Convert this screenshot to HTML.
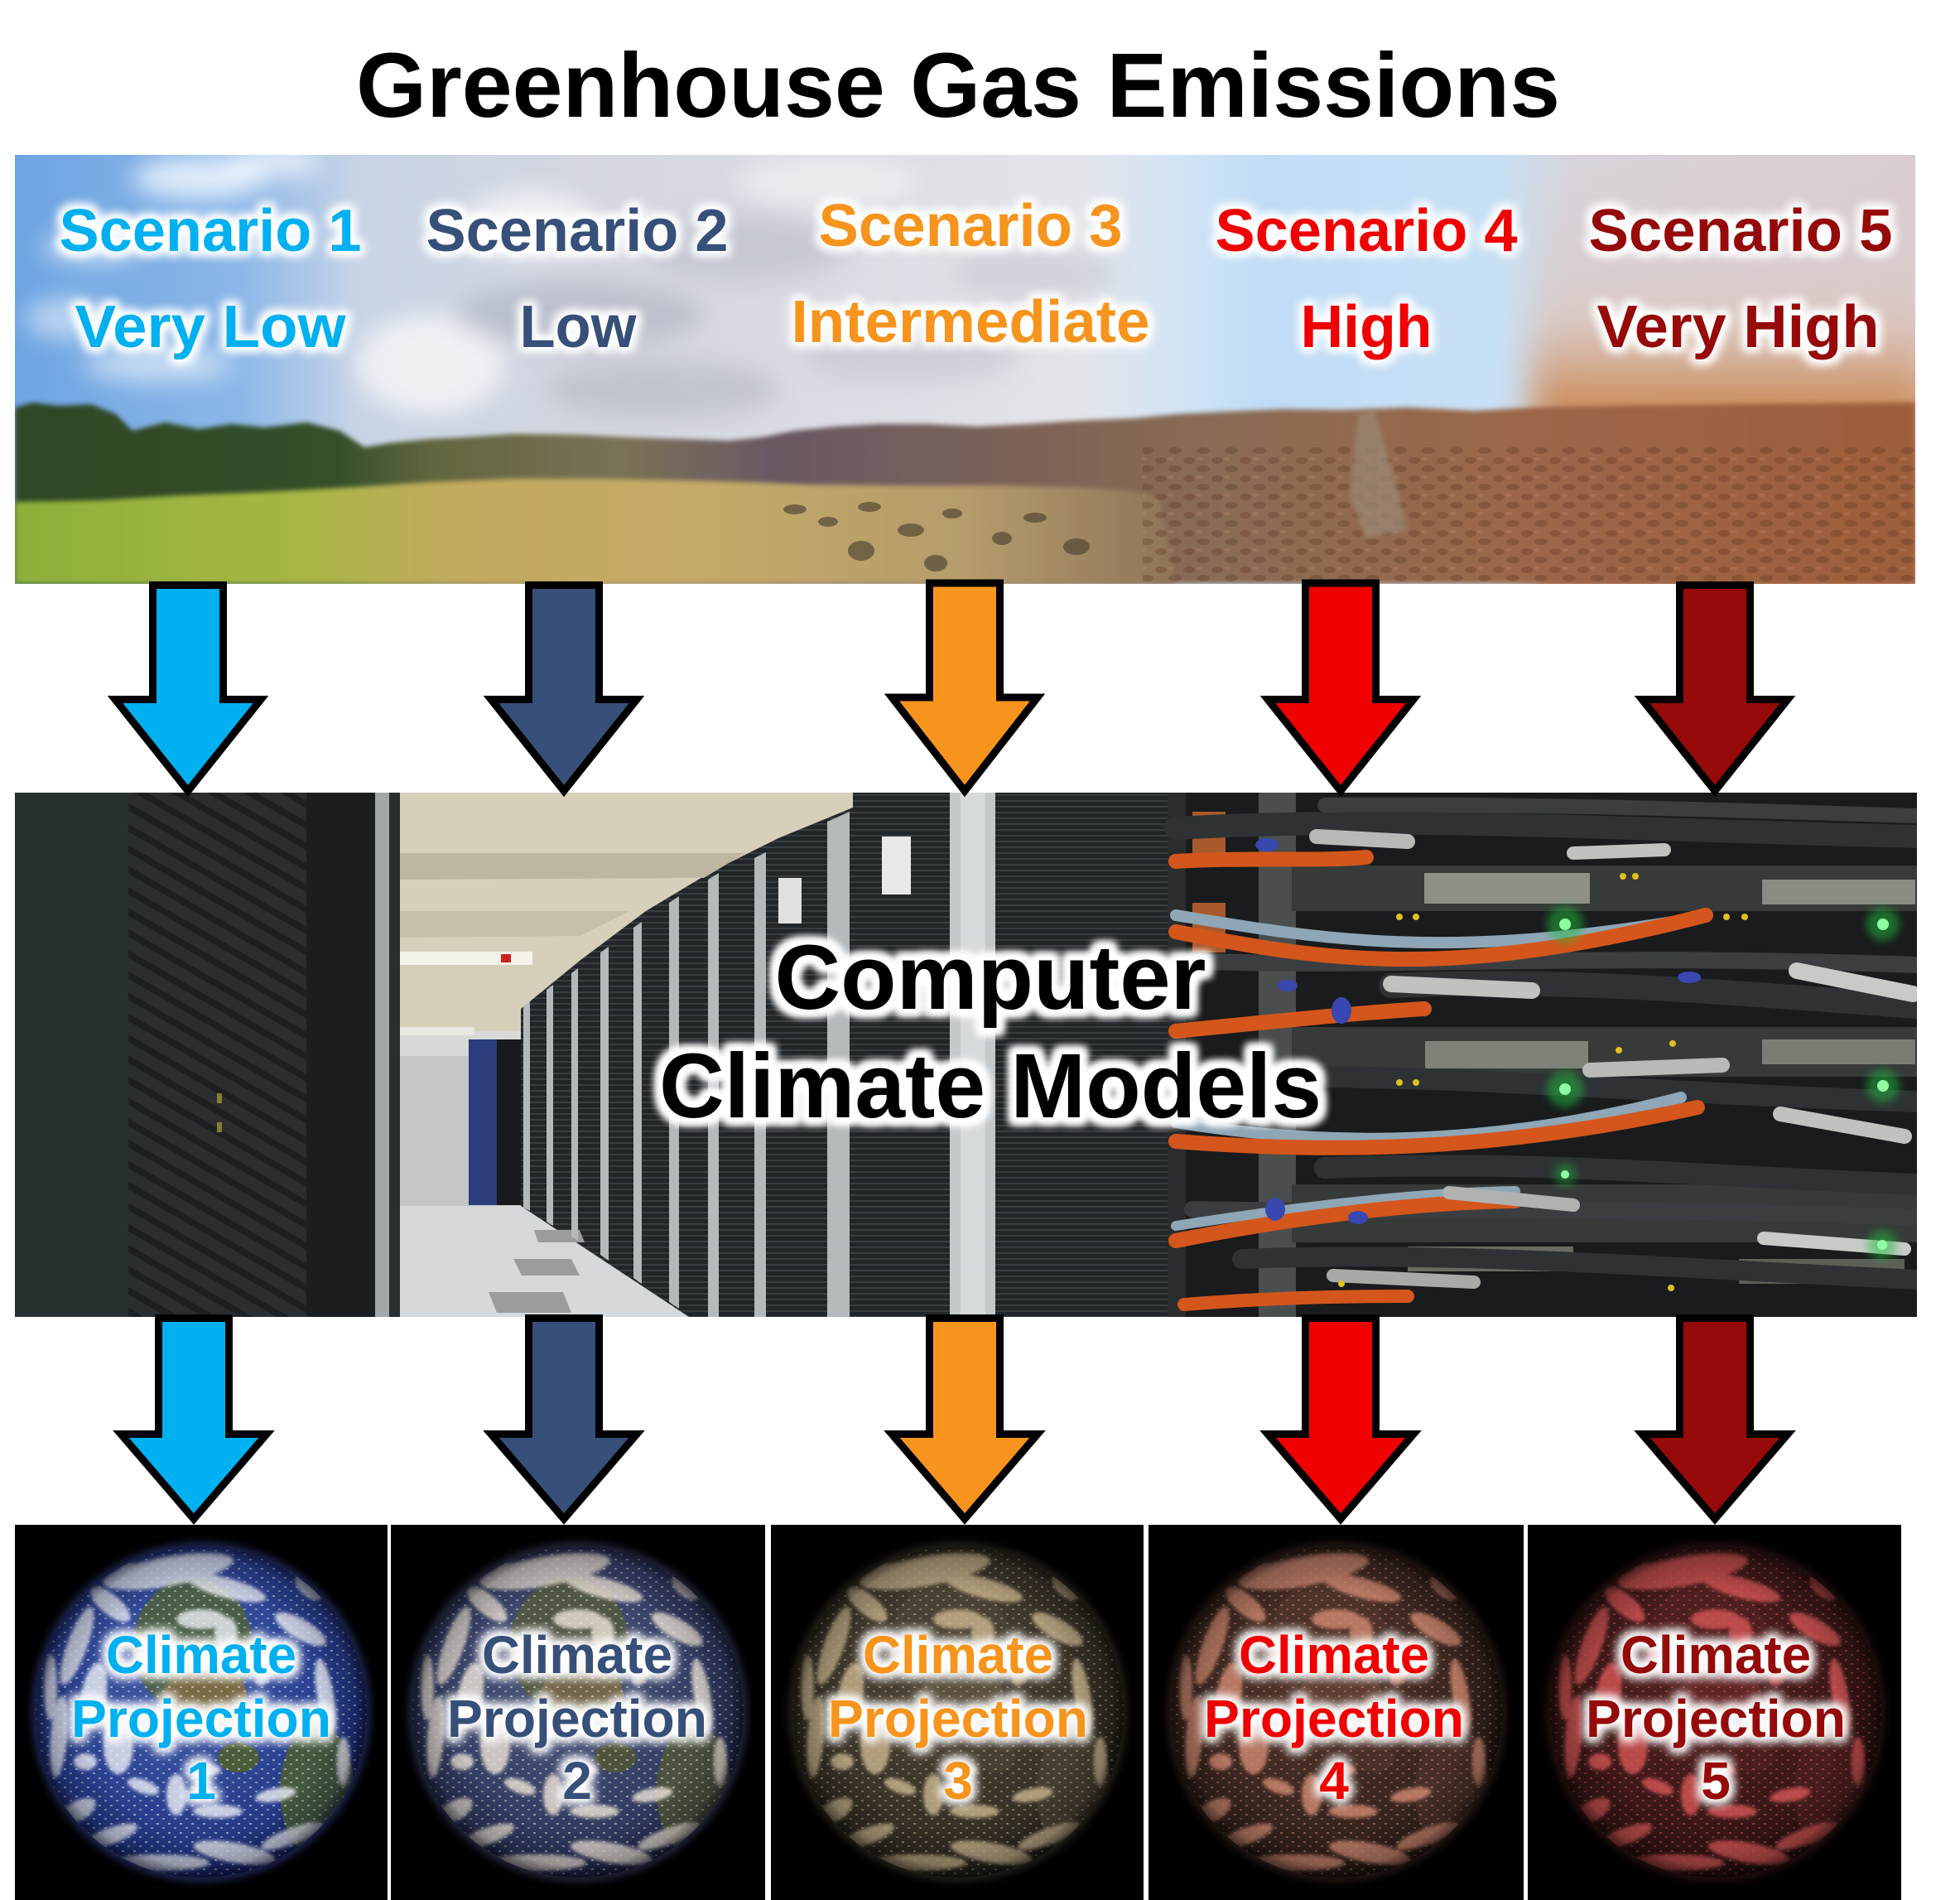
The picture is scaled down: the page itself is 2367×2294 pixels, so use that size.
<!DOCTYPE html>
<html><head><meta charset="utf-8"><title>Greenhouse Gas Emissions</title>
<style>
html,body{margin:0;padding:0;background:#fff;}
body{width:2367px;height:2294px;overflow:hidden;}
svg{display:block;}
text{font-family:"Liberation Sans",Arial,sans-serif;font-weight:bold;}
</style></head><body>
<svg xmlns="http://www.w3.org/2000/svg" xmlns:xlink="http://www.w3.org/1999/xlink" width="2367" height="2294" viewBox="0 0 2367 2294">
<defs>
  <filter id="glow" x="-20%" y="-70%" width="140%" height="240%" color-interpolation-filters="sRGB">
    <feMorphology in="SourceAlpha" operator="dilate" radius="4" result="d"/>
    <feGaussianBlur in="d" stdDeviation="6" result="b"/>
    <feFlood flood-color="#ffffff" result="f"/>
    <feComposite in="f" in2="b" operator="in" result="w"/>
    <feMerge><feMergeNode in="w"/><feMergeNode in="w"/><feMergeNode in="SourceGraphic"/></feMerge>
  </filter>
  <filter id="glowBig" x="-20%" y="-70%" width="140%" height="240%" color-interpolation-filters="sRGB">
    <feMorphology in="SourceAlpha" operator="dilate" radius="7" result="d"/>
    <feGaussianBlur in="d" stdDeviation="5" result="b"/>
    <feFlood flood-color="#ffffff" result="f"/>
    <feComposite in="f" in2="b" operator="in" result="w"/>
    <feMerge><feMergeNode in="w"/><feMergeNode in="w"/><feMergeNode in="w"/><feMergeNode in="SourceGraphic"/></feMerge>
  </filter>
  <filter id="bl2" x="-20%" y="-20%" width="140%" height="140%"><feGaussianBlur stdDeviation="2"/></filter>
  <filter id="bl3" x="-5%" y="-20%" width="110%" height="140%"><feGaussianBlur stdDeviation="3"/></filter>
  <filter id="bl5" x="-20%" y="-20%" width="140%" height="140%"><feGaussianBlur stdDeviation="5"/></filter>
  <filter id="bl14" x="-30%" y="-30%" width="160%" height="160%"><feGaussianBlur stdDeviation="14"/></filter>
  <filter id="bl20" x="-30%" y="-30%" width="160%" height="160%"><feGaussianBlur stdDeviation="20"/></filter>

  <filter id="tint2" color-interpolation-filters="sRGB"><feColorMatrix type="matrix" values="0.685 0.266 0.05 0 0  0.122 0.789 0.045 0 0  0.101 0.199 0.587 0 0  0 0 0 1 0"/></filter>
  <filter id="tint3" color-interpolation-filters="sRGB"><feColorMatrix type="matrix" values="0.255 0.50 0.094 0 0  0.228 0.448 0.084 0 0  0.18 0.354 0.066 0 0  0 0 0 1 0"/></filter>
  <filter id="tint4" color-interpolation-filters="sRGB"><feColorMatrix type="matrix" values="0.264 0.519 0.097 0 0  0.174 0.342 0.064 0 0  0.144 0.283 0.053 0 0  0 0 0 1 0"/></filter>
  <filter id="tint5" color-interpolation-filters="sRGB"><feColorMatrix type="matrix" values="0.27 0.531 0.099 0 0  0.108 0.212 0.04 0 0  0.108 0.212 0.04 0 0  0 0 0 1 0"/></filter>

  <clipPath id="landClip"><rect x="18" y="187" width="2295" height="518"/></clipPath>
  <clipPath id="srvClip"><rect x="18" y="957" width="2297" height="633"/></clipPath>
  <clipPath id="eClip"><circle cx="0" cy="0" r="200"/></clipPath>

  <linearGradient id="skyH" gradientUnits="userSpaceOnUse" x1="18" y1="0" x2="2313" y2="0">
    <stop offset="0" stop-color="#6ea4e2"/>
    <stop offset="0.12" stop-color="#8cb8e8"/>
    <stop offset="0.18" stop-color="#c8d4e6"/>
    <stop offset="0.30" stop-color="#d4d7e0"/>
    <stop offset="0.45" stop-color="#dcdde4"/>
    <stop offset="0.56" stop-color="#e4e5ea"/>
    <stop offset="0.61" stop-color="#d2e4f4"/>
    <stop offset="0.66" stop-color="#bfdcf6"/>
    <stop offset="0.78" stop-color="#c8e0f4"/>
    <stop offset="0.82" stop-color="#d8d4da"/>
    <stop offset="1" stop-color="#dacdd2"/>
  </linearGradient>
  <linearGradient id="hazeV" x1="0" y1="0" x2="0" y2="1">
    <stop offset="0" stop-color="#d8ccd0" stop-opacity="0"/>
    <stop offset="0.35" stop-color="#dcc4b8" stop-opacity="0.5"/>
    <stop offset="0.55" stop-color="#cc8e5e"/>
    <stop offset="1" stop-color="#a86a48"/>
  </linearGradient>
  <linearGradient id="bandH" gradientUnits="userSpaceOnUse" x1="18" y1="0" x2="2313" y2="0">
    <stop offset="0" stop-color="#2e4626"/>
    <stop offset="0.17" stop-color="#34502a"/>
    <stop offset="0.22" stop-color="#62663f"/>
    <stop offset="0.32" stop-color="#7a7256"/>
    <stop offset="0.40" stop-color="#6a5864"/>
    <stop offset="0.52" stop-color="#7a6258"/>
    <stop offset="0.63" stop-color="#8a6c54"/>
    <stop offset="0.80" stop-color="#9c6648"/>
    <stop offset="1" stop-color="#9e5e3c"/>
  </linearGradient>
  <linearGradient id="fieldH" gradientUnits="userSpaceOnUse" x1="18" y1="0" x2="1420" y2="0">
    <stop offset="0" stop-color="#8cb03a"/>
    <stop offset="0.25" stop-color="#a8b644"/>
    <stop offset="0.38" stop-color="#c2aa5e"/>
    <stop offset="0.6" stop-color="#c4aa68"/>
    <stop offset="0.82" stop-color="#b49c6c"/>
    <stop offset="1" stop-color="#8e7458"/>
  </linearGradient>
  <pattern id="rocks" width="34" height="22" patternUnits="userSpaceOnUse">
    <ellipse cx="8" cy="6" rx="7" ry="4" fill="#5a3020" opacity="0.35"/>
    <ellipse cx="25" cy="16" rx="8" ry="4" fill="#4a2a1c" opacity="0.3"/>
    <ellipse cx="20" cy="4" rx="4" ry="2" fill="#d09070" opacity="0.3"/>
  </pattern>
  <pattern id="hl" width="10" height="7" patternUnits="userSpaceOnUse">
    <rect width="10" height="7" fill="#222629"/>
    <rect y="0" width="10" height="2" fill="#383d40"/>
  </pattern>
  <pattern id="diag" width="22" height="22" patternUnits="userSpaceOnUse" patternTransform="rotate(-60)">
    <rect width="22" height="22" fill="#2a2e30"/>
    <rect width="8" height="22" fill="#1d2022"/>
  </pattern>
  <pattern id="speck" width="14" height="11" patternUnits="userSpaceOnUse">
    <rect x="2" y="2" width="3" height="2" fill="#e8ecf4" opacity="0.55"/>
    <rect x="9" y="7" width="3" height="2" fill="#e8ecf4" opacity="0.45"/>
  </pattern>

  <radialGradient id="eGrad" cx="0.45" cy="0.4" r="0.6">
    <stop offset="0" stop-color="#4660a8"/>
    <stop offset="0.55" stop-color="#2f4696"/>
    <stop offset="0.85" stop-color="#243984"/>
    <stop offset="1" stop-color="#182564"/>
  </radialGradient>
  <radialGradient id="limb" cx="0.5" cy="0.5" r="0.5">
    <stop offset="0.72" stop-color="#000010" stop-opacity="0"/>
    <stop offset="0.93" stop-color="#000010" stop-opacity="0.25"/>
    <stop offset="1" stop-color="#000010" stop-opacity="0.6"/>
  </radialGradient>

  <g id="earth">
    <circle r="205" fill="#3a4aa0" opacity="0.5" filter="url(#bl5)"/>
    <g clip-path="url(#eClip)">
      <circle r="200" fill="url(#eGrad)"/>
      <ellipse cx="-10" cy="-80" rx="72" ry="82" fill="#4e6040" opacity="0.9"/>
      <ellipse cx="5" cy="-20" rx="50" ry="36" fill="#7a6a44"/>
      <ellipse cx="45" cy="55" rx="25" ry="18" fill="#4a5c3a"/>
      <ellipse cx="140" cy="95" rx="45" ry="80" fill="#465a40"/>
      <circle r="200" fill="url(#speck)"/>
      <g filter="url(#bl2)" fill="#eef0f6" opacity="0.8">
        <ellipse cx="-40" cy="-170" rx="80" ry="18" transform="rotate(-10 -40 -170)"/>
        <ellipse cx="30" cy="-150" rx="50" ry="12" transform="rotate(15 30 -150)"/>
        <ellipse cx="-110" cy="-130" rx="30" ry="12" transform="rotate(40 -110 -130)"/>
        <ellipse cx="-150" cy="-80" rx="12" ry="50" transform="rotate(20 -150 -80)"/>
        <ellipse cx="-130" cy="-20" rx="15" ry="40" transform="rotate(10 -130 -20)"/>
        <ellipse cx="-100" cy="40" rx="18" ry="35"/>
        <ellipse cx="-172" cy="30" rx="10" ry="50" transform="rotate(5 -172 30)"/>
        <ellipse cx="-150" cy="120" rx="25" ry="12" transform="rotate(-30 -150 120)"/>
        <ellipse cx="-110" cy="150" rx="35" ry="10" transform="rotate(-20 -110 150)"/>
        <ellipse cx="-50" cy="182" rx="60" ry="10"/>
        <ellipse cx="40" cy="170" rx="50" ry="12" transform="rotate(10 40 170)"/>
        <ellipse cx="110" cy="150" rx="40" ry="10" transform="rotate(-20 110 150)"/>
        <ellipse cx="150" cy="-20" rx="10" ry="45" transform="rotate(-10 150 -20)"/>
        <ellipse cx="120" cy="-100" rx="35" ry="12" transform="rotate(30 120 -100)"/>
        <ellipse cx="80" cy="-60" rx="12" ry="30" transform="rotate(20 80 -60)"/>
        <ellipse cx="-60" cy="-60" rx="25" ry="10" transform="rotate(30 -60 -60)"/>
        <ellipse cx="-30" cy="100" rx="12" ry="25"/>
        <ellipse cx="20" cy="120" rx="30" ry="8"/>
        <ellipse cx="-70" cy="90" rx="20" ry="8" transform="rotate(20 -70 90)"/>
        <ellipse cx="60" cy="20" rx="15" ry="8"/>
        <ellipse cx="-182" cy="-30" rx="8" ry="40"/>
        <ellipse cx="172" cy="60" rx="8" ry="30"/>
        <ellipse cx="0" cy="-112" rx="30" ry="12"/>
        <ellipse cx="-80" cy="-172" rx="20" ry="8"/>
        <ellipse cx="90" cy="100" rx="25" ry="8" transform="rotate(-10 90 100)"/>
        <ellipse cx="-140" cy="60" rx="14" ry="10"/>
        <ellipse cx="10" cy="70" rx="14" ry="7"/>
        <ellipse cx="130" cy="-150" rx="20" ry="10" transform="rotate(40 130 -150)"/>
        <ellipse cx="-20" cy="-60" rx="18" ry="14"/>
        <ellipse cx="30" cy="-95" rx="14" ry="20"/>
      </g>
      <circle r="200" fill="url(#limb)"/>
    </g>
  </g>
</defs>

<rect width="2367" height="2294" fill="#ffffff"/>

<!-- Title -->
<text x="1157" y="141" font-size="110" text-anchor="middle" textLength="1454" lengthAdjust="spacingAndGlyphs" fill="#000">Greenhouse Gas Emissions</text>

<!-- Landscape -->
<g clip-path="url(#landClip)">
  <rect x="18" y="187" width="2295" height="518" fill="url(#skyH)"/>
  <g filter="url(#bl14)">
    <ellipse cx="240" cy="215" rx="80" ry="25" fill="#ffffff" opacity="0.75"/>
    <ellipse cx="330" cy="195" rx="60" ry="18" fill="#ffffff" opacity="0.7"/>
    <ellipse cx="110" cy="300" rx="60" ry="18" fill="#ffffff" opacity="0.55"/>
    <ellipse cx="80" cy="385" rx="50" ry="25" fill="#ffffff" opacity="0.5"/>
    <ellipse cx="190" cy="440" rx="90" ry="22" fill="#ffffff" opacity="0.55"/>
    <ellipse cx="520" cy="440" rx="90" ry="60" fill="#f4f4f6" opacity="0.85"/>
    <ellipse cx="700" cy="380" rx="150" ry="40" fill="#aeb2c0" opacity="0.6"/>
    <ellipse cx="900" cy="300" rx="120" ry="40" fill="#b6bac6" opacity="0.55"/>
    <ellipse cx="800" cy="470" rx="140" ry="35" fill="#b0b4c0" opacity="0.55"/>
    <ellipse cx="1100" cy="430" rx="130" ry="30" fill="#bcc0ca" opacity="0.5"/>
    <ellipse cx="1250" cy="330" rx="100" ry="30" fill="#c0c4cc" opacity="0.5"/>
    <ellipse cx="640" cy="270" rx="80" ry="40" fill="#f6f6f8" opacity="0.8"/>
    <ellipse cx="1000" cy="220" rx="110" ry="30" fill="#f2f2f4" opacity="0.7"/>
  </g>
  <rect x="1850" y="187" width="480" height="540" fill="url(#hazeV)" filter="url(#bl20)"/>
  <polygon filter="url(#bl3)" fill="url(#bandH)" points="18,492 40,486 70,490 110,488 140,500 160,520 200,510 240,518 280,512 320,516 370,510 410,520 440,540 470,535 520,530 560,528 620,524 700,525 760,528 820,530 880,532 920,528 960,520 1010,515 1060,512 1120,512 1180,515 1240,512 1300,508 1370,505 1420,500 1480,497 1550,494 1620,495 1700,492 1780,496 1850,492 1950,490 2100,488 2313,486 2313,705 18,705"/>
  <polygon filter="url(#bl3)" fill="url(#fieldH)" points="18,606 120,604 220,598 320,594 430,588 520,582 620,578 720,578 820,580 900,582 980,585 1080,586 1200,586 1300,588 1360,592 1400,600 1420,705 18,705"/>
  <rect x="1380" y="540" width="933" height="165" fill="url(#rocks)" opacity="0.85"/>
  <g fill="#4c4232" opacity="0.65">
    <ellipse cx="960" cy="615" rx="14" ry="6"/><ellipse cx="1000" cy="630" rx="12" ry="6"/>
    <ellipse cx="1050" cy="612" rx="14" ry="6"/><ellipse cx="1100" cy="640" rx="16" ry="8"/>
    <ellipse cx="1150" cy="620" rx="12" ry="6"/><ellipse cx="1040" cy="665" rx="16" ry="12"/>
    <ellipse cx="1130" cy="680" rx="14" ry="10"/><ellipse cx="1210" cy="650" rx="12" ry="8"/>
    <ellipse cx="1250" cy="625" rx="14" ry="6"/><ellipse cx="1300" cy="660" rx="16" ry="10"/>
  </g>
  <polygon points="1640,500 1660,495 1690,600 1700,640 1650,650 1630,600" fill="#9a8a78" opacity="0.7" filter="url(#bl3)"/>
</g>

<!-- Scenario labels -->
<g font-size="72" text-anchor="middle" filter="url(#glow)">
  <text x="254" y="303" fill="#00b0f0" textLength="365" lengthAdjust="spacingAndGlyphs">Scenario 1</text>
  <text x="697" y="303" fill="#375079" textLength="365" lengthAdjust="spacingAndGlyphs">Scenario 2</text>
  <text x="1172" y="297" fill="#f7941d" textLength="367" lengthAdjust="spacingAndGlyphs">Scenario 3</text>
  <text x="1650" y="303" fill="#f00000" textLength="365" lengthAdjust="spacingAndGlyphs">Scenario 4</text>
  <text x="2102" y="303" fill="#960a0a" textLength="367" lengthAdjust="spacingAndGlyphs">Scenario 5</text>
  <text x="254" y="419" fill="#00b0f0" textLength="327" lengthAdjust="spacingAndGlyphs">Very Low</text>
  <text x="698" y="419" fill="#375079" textLength="141" lengthAdjust="spacingAndGlyphs">Low</text>
  <text x="1172" y="413" fill="#f7941d" textLength="433" lengthAdjust="spacingAndGlyphs">Intermediate</text>
  <text x="1650" y="419" fill="#f00000" textLength="159" lengthAdjust="spacingAndGlyphs">High</text>
  <text x="2099" y="419" fill="#960a0a" textLength="341" lengthAdjust="spacingAndGlyphs">Very High</text>
</g>

<!-- Server image -->
<g clip-path="url(#srvClip)">
  <rect x="18" y="957" width="2297" height="633" fill="#222629"/>
  <rect x="18" y="957" width="137" height="633" fill="#283032"/>
  <rect x="155" y="957" width="215" height="633" fill="url(#diag)"/>
  <rect x="370" y="957" width="83" height="633" fill="#1b1e20"/>
  <rect x="453" y="957" width="17" height="633" fill="#a2a8aa"/>
  <rect x="470" y="957" width="13" height="633" fill="#2a2e30"/>
  <rect x="262" y="1320" width="6" height="12" fill="#b0a030" opacity="0.7"/>
  <rect x="262" y="1355" width="6" height="12" fill="#b0a030" opacity="0.7"/>
  <rect x="483" y="957" width="927" height="633" fill="url(#hl)"/>
  <polygon fill="#d6cfba" points="483,957 1030,957 1030,975 940,1012 860,1052 780,1100 700,1160 629,1218 629,1245 483,1245"/>
  <polygon fill="#bdb6a0" points="483,1030 900,1030 850,1060 483,1062"/>
  <polygon fill="#c6bfa9" points="483,1100 760,1100 700,1130 483,1132"/>
  <rect x="483" y="1149" width="160" height="16" fill="#f4f2ea"/>
  <rect x="605" y="1152" width="12" height="10" fill="#d02020"/>
  <rect x="483" y="1245" width="146" height="211" fill="#c4c6c8"/>
  <rect x="483" y="1245" width="146" height="30" fill="#d8d8d6"/>
  <rect x="566" y="1255" width="38" height="200" fill="#2c3c7c"/>
  <rect x="600" y="1255" width="29" height="200" fill="#17191c"/>
  <rect x="483" y="1240" width="90" height="10" fill="#e8e6e0"/>
  <polygon fill="#d6d9db" points="483,1456 629,1456 832,1590 483,1590"/>
  <polygon fill="#9a9c9e" points="620,1520 690,1520 700,1540 630,1540"/>
  <polygon fill="#9a9c9e" points="590,1560 680,1560 690,1585 600,1585"/>
  <polygon fill="#9a9c9e" points="645,1485 700,1485 706,1500 650,1500"/>
  <g fill="#b4b9bc">
    <polygon points="632,1215 640,1209 640,1462 632,1458"/>
    <polygon points="660,1195 668,1189 668,1480 660,1475"/>
    <polygon points="690,1175 698,1169 698,1498 690,1493"/>
    <polygon points="725,1150 735,1143 735,1522 725,1515"/>
    <polygon points="765,1120 775,1113 775,1550 765,1543"/>
    <polygon points="808,1090 820,1082 820,1580 808,1572"/>
    <polygon points="855,1062 868,1054 868,1590 855,1590"/>
    <polygon points="911,1036 925,1029 925,1590 911,1590"/>
    <polygon points="999,992 1026,980 1026,1590 999,1590"/>
  </g>
  <rect x="1147" y="957" width="55" height="633" fill="#c4c9cc"/>
  <rect x="1160" y="957" width="30" height="633" fill="#d6dadc"/>
  <rect x="1065" y="1010" width="35" height="70" fill="#e8e8e8"/>
  <rect x="940" y="1060" width="28" height="55" fill="#e0e0e0"/>
  <!-- cables image -->
  <rect x="1410" y="957" width="905" height="633" fill="#191b1c"/>
  <g>
    <rect x="1410" y="957" width="22" height="633" fill="#2a2c2e"/>
    <rect x="1440" y="980" width="40" height="60" fill="#a85a2c"/>
    <rect x="1440" y="1090" width="40" height="60" fill="#a85a2c"/>
    <rect x="1520" y="957" width="45" height="633" fill="#4a4e4e"/>
    <rect x="1560" y="1045" width="755" height="55" fill="#363a38"/>
    <rect x="1560" y="1240" width="755" height="60" fill="#363a38"/>
    <rect x="1560" y="1430" width="755" height="70" fill="#363a38"/>
    <rect x="1720" y="1054" width="200" height="37" fill="#8e9088"/>
    <rect x="2128" y="1062" width="185" height="30" fill="#8a8c84"/>
    <rect x="1721" y="1257" width="197" height="33" fill="#80827a"/>
    <rect x="2128" y="1255" width="185" height="30" fill="#7a7c74"/>
    <rect x="1700" y="1505" width="200" height="30" fill="#6a6c64"/>
    <rect x="2100" y="1520" width="200" height="30" fill="#5e6058"/>
  </g>
  <g fill="none" stroke-linecap="round">
    <path d="M1420 1000 C1700 985 1900 1000 2315 1010" stroke="#2e3234" stroke-width="28"/>
    <path d="M1600 972 C1800 970 2000 975 2315 985" stroke="#3a3e40" stroke-width="18"/>
    <path d="M1680 1190 C1900 1180 2100 1200 2315 1215" stroke="#2e3234" stroke-width="30"/>
    <path d="M1560 1300 C1800 1300 2000 1320 2315 1330" stroke="#2e3234" stroke-width="26"/>
    <path d="M1600 1410 C1850 1400 2050 1420 2315 1430" stroke="#2e3234" stroke-width="26"/>
    <path d="M1500 1520 C1750 1510 2000 1530 2315 1545" stroke="#2e3234" stroke-width="24"/>
    <path d="M1440 1160 C1650 1170 1900 1150 2315 1165" stroke="#3a3e40" stroke-width="20"/>
    <path d="M1440 1460 C1650 1465 1900 1455 2315 1470" stroke="#3a3e40" stroke-width="20"/>
    <path d="M1420 1105 C1600 1135 1750 1160 2050 1108" stroke="#8ea6b6" stroke-width="14"/>
    <path d="M1420 1355 C1600 1385 1800 1385 2030 1325" stroke="#8ea6b6" stroke-width="14"/>
    <path d="M1420 1480 C1550 1460 1700 1440 1830 1438" stroke="#8ea6b6" stroke-width="12"/>
    <path d="M1420 1040 C1500 1035 1600 1040 1650 1035" stroke="#d4561c" stroke-width="18"/>
    <path d="M1420 1125 C1600 1160 1750 1185 2060 1105" stroke="#d4561c" stroke-width="18"/>
    <path d="M1420 1245 C1550 1232 1650 1222 1720 1218" stroke="#d4561c" stroke-width="18"/>
    <path d="M1420 1378 C1600 1392 1800 1392 2050 1337" stroke="#d4561c" stroke-width="18"/>
    <path d="M1420 1498 C1550 1472 1700 1452 1830 1450" stroke="#d4561c" stroke-width="18"/>
    <path d="M1430 1575 C1520 1568 1600 1565 1700 1565" stroke="#d4561c" stroke-width="16"/>
    <path d="M1680 1188 L1850 1196" stroke="#c0c2c0" stroke-width="20"/>
    <path d="M1920 1292 L2080 1286" stroke="#b8bab8" stroke-width="18"/>
    <path d="M2170 1172 L2310 1200" stroke="#c8cac8" stroke-width="20"/>
    <path d="M2150 1345 L2300 1372" stroke="#c0c2c0" stroke-width="18"/>
    <path d="M1750 1440 L1900 1455" stroke="#b0b2b0" stroke-width="16"/>
    <path d="M1590 1010 L1700 1016" stroke="#b8bab8" stroke-width="18"/>
    <path d="M1900 1030 L2010 1026" stroke="#c0c2c0" stroke-width="16"/>
    <path d="M2130 1495 L2300 1508" stroke="#c8cac8" stroke-width="16"/>
    <path d="M1610 1540 L1780 1548" stroke="#a8aaa8" stroke-width="16"/>
  </g>
  <g fill="#3848b0">
    <ellipse cx="1530" cy="1020" rx="14" ry="8"/>
    <ellipse cx="1555" cy="1190" rx="12" ry="7"/>
    <ellipse cx="1620" cy="1220" rx="12" ry="16"/>
    <ellipse cx="1540" cy="1460" rx="12" ry="14"/>
    <ellipse cx="1640" cy="1470" rx="12" ry="8"/>
    <ellipse cx="2040" cy="1180" rx="14" ry="7"/>
  </g>
  <g>
    <circle cx="1890" cy="1116" r="22" fill="#20c040" opacity="0.5" filter="url(#bl5)"/>
    <circle cx="2274" cy="1116" r="20" fill="#20c040" opacity="0.5" filter="url(#bl5)"/>
    <circle cx="1890" cy="1315" r="22" fill="#20c040" opacity="0.5" filter="url(#bl5)"/>
    <circle cx="2274" cy="1311" r="20" fill="#20c040" opacity="0.5" filter="url(#bl5)"/>
    <circle cx="2273" cy="1503" r="18" fill="#20c040" opacity="0.5" filter="url(#bl5)"/>
    <circle cx="1890" cy="1418" r="14" fill="#20c040" opacity="0.4" filter="url(#bl5)"/>
    <circle cx="1890" cy="1116" r="7" fill="#8cffa0"/>
    <circle cx="2274" cy="1116" r="7" fill="#8cffa0"/>
    <circle cx="1890" cy="1315" r="7" fill="#8cffa0"/>
    <circle cx="2274" cy="1311" r="7" fill="#8cffa0"/>
    <circle cx="2273" cy="1503" r="6" fill="#8cffa0"/>
    <circle cx="1890" cy="1418" r="5" fill="#8cffa0"/>
  </g>
  <g fill="#e0c020">
    <circle cx="1690" cy="1107" r="4"/><circle cx="1710" cy="1107" r="4"/>
    <circle cx="1960" cy="1058" r="4"/><circle cx="1975" cy="1058" r="4"/>
    <circle cx="1690" cy="1307" r="4"/><circle cx="1710" cy="1307" r="4"/>
    <circle cx="2085" cy="1107" r="4"/><circle cx="2107" cy="1107" r="4"/>
    <circle cx="1955" cy="1268" r="4"/><circle cx="2020" cy="1260" r="4"/>
    <circle cx="1620" cy="1550" r="4"/><circle cx="2018" cy="1555" r="4"/>
  </g>
</g>

<!-- Computer Climate Models -->
<g font-size="110" text-anchor="middle" fill="#000" filter="url(#glowBig)">
  <text x="1196" y="1218" textLength="521" lengthAdjust="spacingAndGlyphs">Computer</text>
  <text x="1196" y="1349" textLength="800" lengthAdjust="spacingAndGlyphs">Climate Models</text>
</g>

<!-- Arrows row 1 -->
<g stroke="#000" stroke-width="9" stroke-linejoin="miter" stroke-miterlimit="10">
  <polygon fill="#00b0f0" points="184.5,706.5 269.5,706.5 269.5,844.5 315,844.5 227,955 139,844.5 184.5,844.5"/>
  <polygon fill="#375079" points="638.5,706.5 723.5,706.5 723.5,844.5 769,844.5 681,955 593,844.5 638.5,844.5"/>
  <polygon fill="#f7941d" points="1122.5,704 1207.5,704 1207.5,842 1253,842 1165,955 1077,842 1122.5,842"/>
  <polygon fill="#f00000" points="1576.5,704 1661.5,704 1661.5,844.5 1707,844.5 1619,955 1531,844.5 1576.5,844.5"/>
  <polygon fill="#960a0a" points="2028.5,706.5 2113.5,706.5 2113.5,844.5 2159,844.5 2071,955 1983,844.5 2028.5,844.5"/>
</g>

<!-- Earth panels -->
<g fill="#000">
  <rect x="18" y="1841" width="450" height="453"/>
  <rect x="472" y="1841" width="452" height="453"/>
  <rect x="931" y="1841" width="450" height="453"/>
  <rect x="1387" y="1841" width="453" height="453"/>
  <rect x="1845" y="1841" width="451" height="453"/>
</g>
<use xlink:href="#earth" href="#earth" transform="translate(243,2067)"/>
<use xlink:href="#earth" href="#earth" transform="translate(698,2067)" filter="url(#tint2)"/>
<use xlink:href="#earth" href="#earth" transform="translate(1157,2067)" filter="url(#tint3)"/>
<use xlink:href="#earth" href="#earth" transform="translate(1614,2067)" filter="url(#tint4)"/>
<use xlink:href="#earth" href="#earth" transform="translate(2072,2067)" filter="url(#tint5)"/>

<!-- Arrows row 2 -->
<g stroke="#000" stroke-width="9" stroke-linejoin="miter" stroke-miterlimit="10">
  <polygon fill="#00b0f0" points="191.5,1591.5 276.5,1591.5 276.5,1731.5 322,1731.5 234,1834 146,1731.5 191.5,1731.5"/>
  <polygon fill="#375079" points="638.5,1591.5 723.5,1591.5 723.5,1731.5 769,1731.5 681,1834 593,1731.5 638.5,1731.5"/>
  <polygon fill="#f7941d" points="1122.5,1591.5 1207.5,1591.5 1207.5,1731.5 1253,1731.5 1165,1834 1077,1731.5 1122.5,1731.5"/>
  <polygon fill="#f00000" points="1576.5,1591.5 1661.5,1591.5 1661.5,1731.5 1707,1731.5 1619,1834 1531,1731.5 1576.5,1731.5"/>
  <polygon fill="#960a0a" points="2028.5,1591.5 2113.5,1591.5 2113.5,1731.5 2159,1731.5 2071,1834 1983,1731.5 2028.5,1731.5"/>
</g>

<!-- Projection labels -->
<g font-size="64" text-anchor="middle" filter="url(#glow)">
  <g fill="#00b0f0">
    <text x="243" y="2020" textLength="230" lengthAdjust="spacingAndGlyphs">Climate</text>
    <text x="243" y="2097" textLength="314" lengthAdjust="spacingAndGlyphs">Projection</text>
    <text x="243" y="2172">1</text>
  </g>
  <g fill="#375079">
    <text x="697" y="2020" textLength="230" lengthAdjust="spacingAndGlyphs">Climate</text>
    <text x="697" y="2097" textLength="314" lengthAdjust="spacingAndGlyphs">Projection</text>
    <text x="697" y="2172">2</text>
  </g>
  <g fill="#f7941d">
    <text x="1157" y="2020" textLength="230" lengthAdjust="spacingAndGlyphs">Climate</text>
    <text x="1157" y="2097" textLength="314" lengthAdjust="spacingAndGlyphs">Projection</text>
    <text x="1157" y="2172">3</text>
  </g>
  <g fill="#f00000">
    <text x="1611" y="2020" textLength="230" lengthAdjust="spacingAndGlyphs">Climate</text>
    <text x="1611" y="2097" textLength="314" lengthAdjust="spacingAndGlyphs">Projection</text>
    <text x="1611" y="2172">4</text>
  </g>
  <g fill="#960a0a">
    <text x="2072" y="2020" textLength="230" lengthAdjust="spacingAndGlyphs">Climate</text>
    <text x="2072" y="2097" textLength="314" lengthAdjust="spacingAndGlyphs">Projection</text>
    <text x="2072" y="2172">5</text>
  </g>
</g>
</svg>
</body></html>
